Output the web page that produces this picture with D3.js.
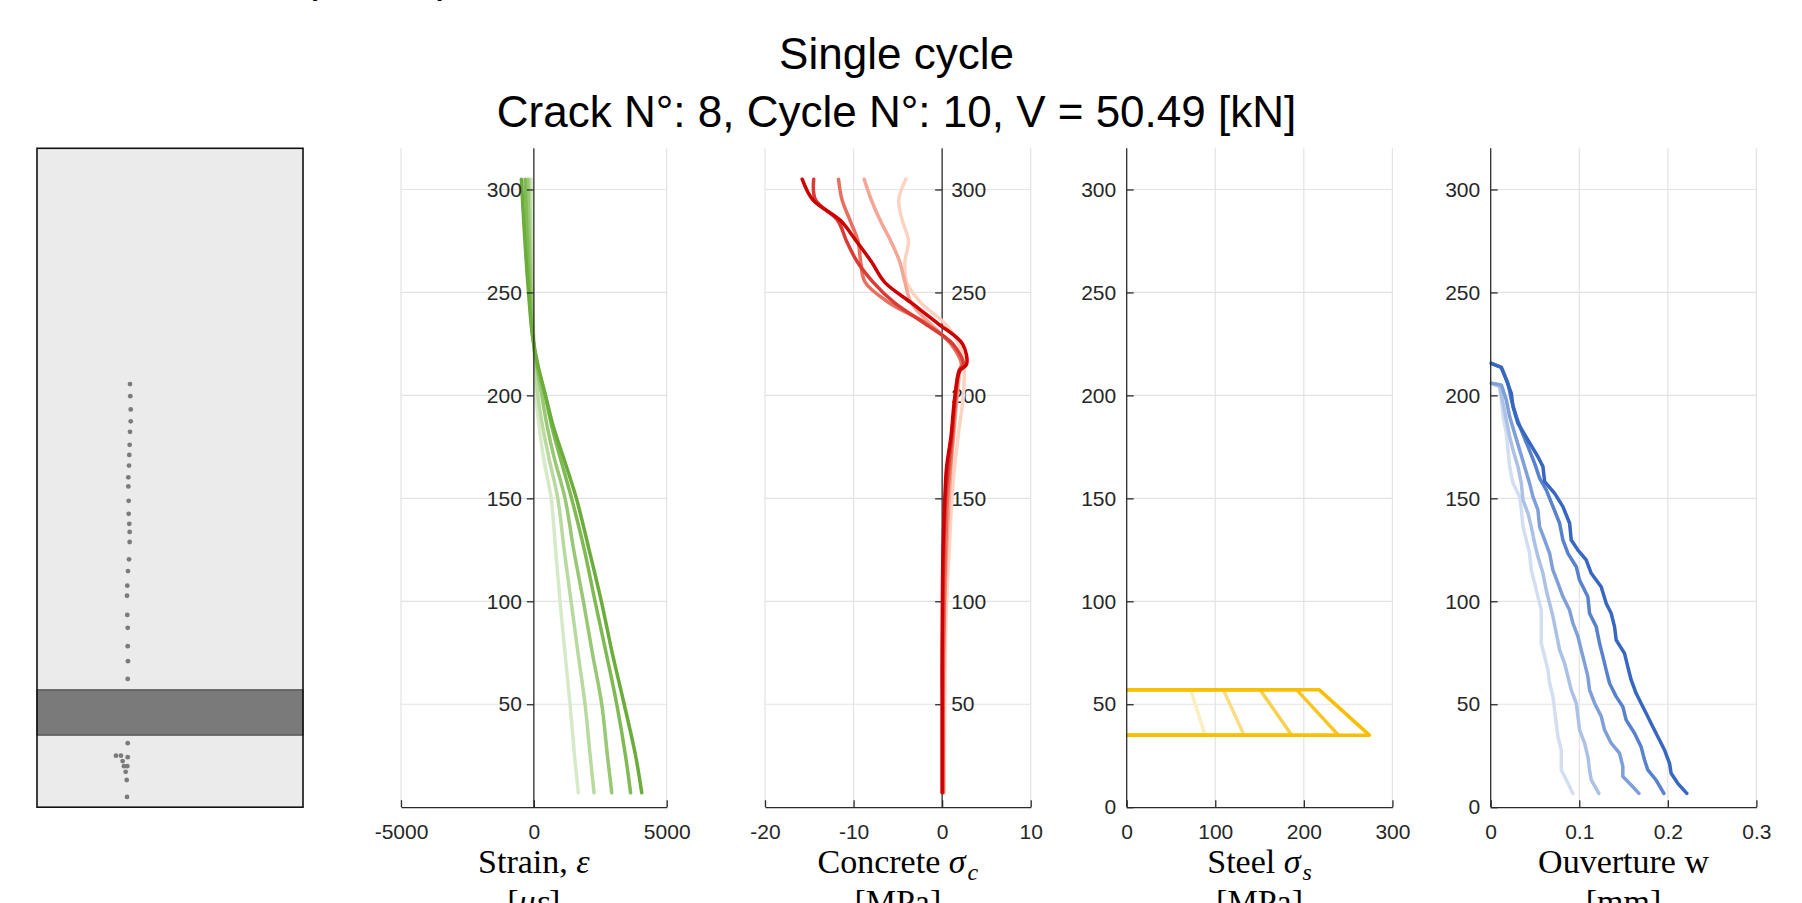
<!DOCTYPE html>
<html>
<head>
<meta charset="utf-8">
<script src="https://cdn.jsdelivr.net/npm/d3@7"></script>
<style>
  html, body { margin: 0; padding: 0; background: #fff; }
  svg { display: block; }
</style>
</head>
<body>
<svg id="chart" width="1802" height="903"></svg>
<script>
// ---------------- DATA ----------------
const titleLines = ["Single cycle", "Crack N°: 8, Cycle N°: 10, V = 50.49 [kN]"];

// y (height) ticks, shared
const yTicks = [50, 100, 150, 200, 250, 300];
const yTicksWithZero = [0, 50, 100, 150, 200, 250, 300];

// Cross-section panel: steel band and crack measurement points
const steelBand = [35, 57];
const crackPtsX = [104.9, 105.2, 105.7, 105.7, 104.9, 104.5, 104.1, 103.8, 103.0, 103.0, 103.4, 103.4, 104.1, 104.5, 104.5, 103.8, 102.6, 101.8, 101.5, 101.8, 102.3, 102.3, 102.6, 102.3,
                   102.3, 89.1, 94.7, 102.3, 96.6, 98.1, 101.8, 100.0, 101.2, 101.5];
const crackPtsY = [205.5, 199.6, 193.2, 187.4, 182.3, 176.0, 171.1, 165.9, 160.2, 155.8, 148.8, 142.5, 137.6, 133.7, 128.8, 120.4, 114.7, 107.6, 102.7, 93.4, 87.1, 78.2, 70.9, 62.3,
                   31.1, 25.0, 25.0, 24.3, 22.4, 19.9, 19.9, 17.2, 13.2, 5.0];

// Strain profiles (5 load steps, light -> dark)
const strainTicks = [-5000, 0, 5000];
const strainDepth = [305, 280, 255, 230, 215, 200, 185, 170, 150, 125, 100, 75, 50, 25, 7];
const strain1 = [-95, -70, -45, -10, 30, 80, 200, 360, 650, 820, 985, 1170, 1362, 1530, 1675];
const strain2 = [-170, -130, -85, -20, 60, 150, 330, 560, 900, 1140, 1400, 1660, 1927, 2120, 2266];
const strain3 = [-230, -180, -120, -40, 100, 300, 500, 760, 1174, 1500, 1864, 2200, 2555, 2770, 2932];
const strain4 = [-330, -260, -170, -60, 120, 420, 674, 986, 1420, 1900, 2303, 2720, 3120, 3450, 3640];
const strain5 = [-470, -360, -230, -60, 150, 440, 730, 1110, 1600, 2080, 2540, 2950, 3400, 3830, 4060];

// Concrete stress profiles
const concreteTicks = [-20, -10, 0, 10];
const concreteDepth = [305, 295, 285, 275, 265, 255, 245, 235, 225, 215, 212, 200, 180, 165, 150, 125, 100, 75, 50, 25, 7];
const concrete1 = [-4.1, -4.9, -4.5, -3.8, -4.2, -4.0, -2.4, 0.3, 1.9, 2.5, 2.5, 2.4, 1.8, 1.4, 1.1, 0.8, 0.5, 0.35, 0.3, 0.25, 0.25];
const concrete2 = [-8.8, -8.0, -7.0, -5.8, -4.8, -4.2, -3.5, -1.4, 1.0, 2.2, 2.0, 1.7, 1.3, 1.0, 0.8, 0.5, 0.3, 0.2, 0.15, 0.15, 0.15];
const concrete3 = [-11.7, -11.3, -10.4, -9.5, -9.2, -8.7, -6.0, -1.8, 1.0, 2.2, 1.9, 1.6, 1.2, 0.9, 0.6, 0.4, 0.25, 0.15, 0.1, 0.1, 0.1];
const concrete4 = [-14.5, -14.3, -11.8, -10.8, -9.6, -7.8, -5.4, -2.0, 1.2, 2.4, 1.9, 1.5, 1.1, 0.7, 0.4, 0.2, 0.1, 0.05, 0.05, 0.05, 0.05];
const concrete5 = [-15.8, -14.6, -11.5, -9.7, -8.0, -6.5, -3.5, -0.5, 2.3, 2.75, 2.0, 1.45, 1.0, 0.5, 0.3, 0.1, 0.03, 0.0, 0.0, 0.0, 0.0];

// Steel stress (top and bottom of the bar band)
const steelTicks = [0, 100, 200, 300];
const steelDepth = [57, 35];
const steelTop = [72.3, 109.1, 150.6, 192.0, 217.5];
const steelBot = [88.4, 132.5, 186.4, 239.0, 274.0];

// Crack opening profiles [w (mm), height]
const openingTicks = [0, 0.1, 0.2, 0.3];
const opening1 = [[0.0007,205.9],[0.0101,205.1],[0.0120,197.8],[0.0139,189.7],[0.0176,181.6],[0.0195,173.5],[0.0214,165.4],[0.0252,157.3],[0.0327,150.8],[0.0346,144.4],[0.0364,136.3],[0.0402,129.8],[0.0439,123.3],[0.0458,115.2],[0.0496,108.8],[0.0533,102.3],[0.0571,95.8],[0.0571,87.7],[0.0571,79.6],[0.0609,73.1],[0.0646,66.6],[0.0665,60.2],[0.0703,53.7],[0.0721,47.2],[0.0740,40.7],[0.0759,34.3],[0.0797,27.8],[0.0797,18.1],[0.0853,13.3],[0.0928,6.7]];
const opening2 = [[0.0007,205.9],[0.0101,204.3],[0.0139,196.2],[0.0176,188.1],[0.0214,180.0],[0.0252,173.5],[0.0308,165.4],[0.0346,157.3],[0.0364,149.2],[0.0421,142.7],[0.0458,136.3],[0.0496,128.2],[0.0533,121.7],[0.0590,113.6],[0.0627,105.5],[0.0665,99.0],[0.0703,92.6],[0.0740,84.5],[0.0778,76.4],[0.0834,69.9],[0.0872,63.5],[0.0909,57.0],[0.0966,50.5],[0.0985,44.1],[0.1003,37.6],[0.1060,31.1],[0.1097,24.6],[0.1116,18.1],[0.1135,13.3],[0.1221,6.7]];
const opening3 = [[0.0007,205.9],[0.0120,205.1],[0.0176,197.8],[0.0214,189.7],[0.0270,181.6],[0.0327,173.5],[0.0383,165.4],[0.0439,157.3],[0.0477,150.8],[0.0533,144.4],[0.0552,136.3],[0.0609,129.8],[0.0665,123.3],[0.0702,115.2],[0.0759,108.8],[0.0815,102.3],[0.0890,95.8],[0.0928,89.4],[0.0985,82.9],[0.1022,76.4],[0.1060,70.0],[0.1097,63.5],[0.1116,57.0],[0.1173,50.5],[0.1248,44.1],[0.1285,37.6],[0.1360,31.1],[0.1454,26.3],[0.1492,19.8],[0.1492,14.9],[0.1586,10.8],[0.1673,6.7]];
const opening4 = [[0.0007,215.6],[0.0120,213.6],[0.0195,205.9],[0.0233,197.8],[0.0289,189.7],[0.0345,183.2],[0.0421,175.1],[0.0496,167.0],[0.0553,159.7],[0.0627,154.1],[0.0703,146.0],[0.0778,137.9],[0.0815,129.8],[0.0872,123.3],[0.0966,116.8],[0.1003,110.3],[0.1097,102.2],[0.1116,94.2],[0.1191,87.7],[0.1229,79.6],[0.1267,73.1],[0.1304,66.6],[0.1342,60.2],[0.1417,53.7],[0.1492,48.8],[0.1529,42.4],[0.1624,35.9],[0.1698,29.4],[0.1737,22.9],[0.1774,18.1],[0.1868,13.2],[0.1955,6.7]];
const opening5 = [[0.0007,215.6],[0.0120,213.6],[0.0176,207.5],[0.0233,201.0],[0.0252,194.5],[0.0308,186.4],[0.0421,178.3],[0.0533,170.2],[0.0590,165.4],[0.0609,158.1],[0.0722,152.4],[0.0815,146.0],[0.0891,137.9],[0.0909,129.8],[0.0985,124.9],[0.1078,120.1],[0.1135,113.6],[0.1247,107.1],[0.1304,99.0],[0.1360,94.2],[0.1398,87.7],[0.1417,81.2],[0.1511,74.7],[0.1548,68.2],[0.1586,61.8],[0.1642,55.3],[0.1698,50.5],[0.1755,45.6],[0.1830,39.1],[0.1906,32.6],[0.1962,27.8],[0.2019,21.3],[0.2037,16.5],[0.2112,11.6],[0.2214,6.7]];

// Colours for the five load steps (light -> dark)
const greens = ["#d6eac8", "#b8da9e", "#98c873", "#80ba53", "#6aad3a"];
const reds   = ["#fcd3c1", "#f4a595", "#e8705f", "#db3b35", "#cc0000"];
const yellows= ["#fbeebf", "#f9dd85", "#f8d050", "#f7c525", "#f7bf00"];
const blues  = ["#d3def1", "#abc1e6", "#7f9fd9", "#5882cd", "#3767c0"];

// Axis labels
const labelsLine2 = ["[με]", "[MPa]", "[MPa]", "[mm]"];

// ---------------- LAYOUT ----------------
const svg = d3.select("#chart");
svg.append("rect").attr("width", 1802).attr("height", 903).attr("fill", "#fff");

const sans = "'Liberation Sans', Arial, Helvetica, sans-serif";
const serif = "'Liberation Serif', 'Times New Roman', serif";
const axisColor = "#2b2b2b";
const gridColor = "#e3e3e3";
const tickFont = 21;
const labelFont = 34;

const y = d3.scaleLinear().domain([0, 320]).range([807.2, 148.3]);
const panelW = 265.7;
const lefts = [401, 765, 1126.7, 1490.7];

const xBeam = d3.scaleLinear().domain([0, 300]).range([37, 303]);
const xS  = d3.scaleLinear().domain([-5000, 5000]).range([lefts[0], lefts[0] + panelW]);
const xC  = d3.scaleLinear().domain([-20, 10]).range([lefts[1], lefts[1] + panelW]);
const xSt = d3.scaleLinear().domain([0, 300]).range([lefts[2], lefts[2] + panelW]);
const xW  = d3.scaleLinear().domain([0, 0.3]).range([lefts[3], lefts[3] + panelW]);

// ---------------- TITLE ----------------
svg.append("text").attr("x", 303).attr("y", -8).attr("font-family", sans).attr("font-size", 44)
  .attr("fill", "#000").text("(");
svg.append("text").attr("x", 437).attr("y", -8).attr("font-family", sans).attr("font-size", 44)
  .attr("fill", "#000").text(")");

svg.append("text").attr("x", 896.5).attr("y", 69).attr("text-anchor", "middle")
  .attr("font-family", sans).attr("font-size", 44).attr("fill", "#000").text(titleLines[0]);
svg.append("text").attr("x", 896.5).attr("y", 127).attr("text-anchor", "middle")
  .attr("font-family", sans).attr("font-size", 44).attr("fill", "#000").text(titleLines[1]);

// ---------------- CROSS-SECTION PANEL ----------------
const beam = svg.append("g");
beam.append("rect").attr("x", xBeam(0)).attr("y", y(320)).attr("width", xBeam(300) - xBeam(0))
  .attr("height", y(0) - y(320)).attr("fill", "#ebebeb");
beam.append("rect").attr("x", xBeam(0)).attr("y", y(steelBand[1])).attr("width", xBeam(300) - xBeam(0))
  .attr("height", y(steelBand[0]) - y(steelBand[1])).attr("fill", "#7a7a7a")
  .attr("stroke", "#3a3a3a").attr("stroke-width", 1);
beam.selectAll("circle").data(crackPtsX).join("circle")
  .attr("cx", (d) => xBeam(d)).attr("cy", (d, i) => y(crackPtsY[i])).attr("r", 2.4)
  .attr("fill", "#7b7b7b");
beam.append("rect").attr("x", xBeam(0)).attr("y", y(320)).attr("width", xBeam(300) - xBeam(0))
  .attr("height", y(0) - y(320)).attr("fill", "none").attr("stroke", "#111").attr("stroke-width", 1.6);

// ---------------- GENERIC PANEL ----------------
function gridLines(x, xTicks, yAxisAt) {
  const g = svg.append("g");
  const [x0, x1] = x.range();
  g.selectAll(".vg").data(xTicks.filter((t) => t !== yAxisAt)).join("line")
    .attr("x1", (d) => x(d)).attr("x2", (d) => x(d)).attr("y1", y(320)).attr("y2", y(0))
    .attr("stroke", gridColor).attr("stroke-width", 1.2);
  g.selectAll(".hg").data(yTicks).join("line")
    .attr("x1", x0).attr("x2", x1).attr("y1", (d) => y(d)).attr("y2", (d) => y(d))
    .attr("stroke", gridColor).attr("stroke-width", 1.2);
  return g;
}

function drawAxes(x, xTicks, yAxisAt, mode, yTickVals) {
  const ax = d3.axisBottom(x).tickValues(xTicks).tickSizeInner(-7).tickSizeOuter(0)
    .tickPadding(17).tickFormat((d) => String(d));
  const gx = svg.append("g").attr("transform", `translate(0,${y(0)})`).call(ax);
  gx.selectAll("path, line").attr("stroke", axisColor).attr("stroke-width", 1.3);
  gx.selectAll("text").attr("font-family", sans).attr("font-size", tickFont).attr("fill", "#262626");

  let ay;
  if (mode === "right") {
    ay = d3.axisRight(y).tickValues(yTickVals).tickSizeInner(-7).tickSizeOuter(0).tickPadding(9);
  } else if (mode === "originLeft") {
    ay = d3.axisLeft(y).tickValues(yTickVals).tickSizeInner(7).tickSizeOuter(0).tickPadding(5);
  } else {
    ay = d3.axisLeft(y).tickValues(yTickVals).tickSizeInner(-7).tickSizeOuter(0).tickPadding(10.5);
  }
  const gy = svg.append("g").attr("transform", `translate(${x(yAxisAt)},0)`).call(ay);
  gy.select("path.domain").attr("d", `M0,${y(0)}V${y(320)}`);
  gy.selectAll("path, line").attr("stroke", axisColor).attr("stroke-width", 1.3);
  gy.selectAll("text").attr("font-family", sans).attr("font-size", tickFont).attr("fill", "#262626");
}

const lineStrain = d3.line().x((d) => xS(d[0])).y((d) => y(d[1])).curve(d3.curveCatmullRom.alpha(0.5));
const lineConc = d3.line().x((d) => xC(d[0])).y((d) => y(d[1])).curve(d3.curveCatmullRom.alpha(0.5));
const lineSteel = d3.line().x((d) => xSt(d[0])).y((d) => y(d[1]));
const lineOpen = d3.line().x((d) => xW(d[0])).y((d) => y(d[1]));
const LW = 3.5;

// ---- Panel 1: strain
gridLines(xS, strainTicks, 0);
[strain1, strain2, strain3, strain4, strain5].forEach((s, i) => {
  svg.append("path").datum(s.map((v, k) => [v, strainDepth[k]]))
    .attr("d", lineStrain).attr("fill", "none").attr("stroke", greens[i])
    .attr("stroke-width", LW).attr("stroke-linejoin", "round").attr("stroke-linecap", "round");
});
drawAxes(xS, strainTicks, 0, "originLeft", yTicks);

// ---- Panel 2: concrete
gridLines(xC, concreteTicks, 0);
drawAxes(xC, concreteTicks, 0, "right", yTicks);
[concrete1, concrete2, concrete3, concrete4, concrete5].forEach((s, i) => {
  svg.append("path").datum(s.map((v, k) => [v, concreteDepth[k]]))
    .attr("d", lineConc).attr("fill", "none").attr("stroke", reds[i])
    .attr("stroke-width", LW).attr("stroke-linejoin", "round").attr("stroke-linecap", "round");
});

// ---- Panel 3: steel
gridLines(xSt, steelTicks, 0);
steelTop.forEach((t, i) => {
  const pts = [[0, steelDepth[0]], [t, steelDepth[0]], [steelBot[i], steelDepth[1]], [0, steelDepth[1]]];
  svg.append("path").datum(pts).attr("d", lineSteel).attr("fill", "none")
    .attr("stroke", yellows[i]).attr("stroke-width", LW).attr("stroke-linejoin", "round");
});
drawAxes(xSt, steelTicks, 0, "left", yTicksWithZero);

// ---- Panel 4: crack opening
gridLines(xW, openingTicks, 0);
[opening1, opening2, opening3, opening4, opening5].forEach((s, i) => {
  svg.append("path").datum(s).attr("d", lineOpen).attr("fill", "none").attr("stroke", blues[i])
    .attr("stroke-width", LW).attr("stroke-linejoin", "round").attr("stroke-linecap", "round");
});
drawAxes(xW, openingTicks, 0, "left", yTicksWithZero);

// ---------------- AXIS LABELS ----------------
function axisLabel(cx, parts, line2parts) {
  const t = svg.append("text").attr("x", cx).attr("y", 873).attr("text-anchor", "middle")
    .attr("font-family", serif).attr("font-size", labelFont).attr("fill", "#000");
  parts.forEach((p) => {
    const ts = t.append("tspan").text(p.t);
    if (p.i) ts.attr("font-style", "italic");
    if (p.sub) ts.attr("font-size", 24).attr("dy", 7).attr("dx", 2);
  });
  const t2 = svg.append("text").attr("x", cx).attr("y", 913).attr("text-anchor", "middle")
    .attr("font-family", serif).attr("font-size", labelFont).attr("fill", "#000");
  line2parts.forEach((p) => {
    const ts = t2.append("tspan").text(p.t);
    if (p.i) ts.attr("font-style", "italic");
  });
}
axisLabel(xS(0), [{t: "Strain, "}, {t: "ε", i: true}],
  [{t: labelsLine2[0].slice(0, 1)}, {t: labelsLine2[0].slice(1, 3), i: true}, {t: labelsLine2[0].slice(3)}]);
axisLabel(lefts[1] + panelW / 2, [{t: "Concrete "}, {t: "σ", i: true}, {t: "c", i: true, sub: true}], [{t: labelsLine2[1]}]);
axisLabel(lefts[2] + panelW / 2, [{t: "Steel "}, {t: "σ", i: true}, {t: "s", i: true, sub: true}], [{t: labelsLine2[2]}]);
axisLabel(lefts[3] + panelW / 2, [{t: "Ouverture w"}], [{t: labelsLine2[3]}]);
</script>
</body>
</html>
